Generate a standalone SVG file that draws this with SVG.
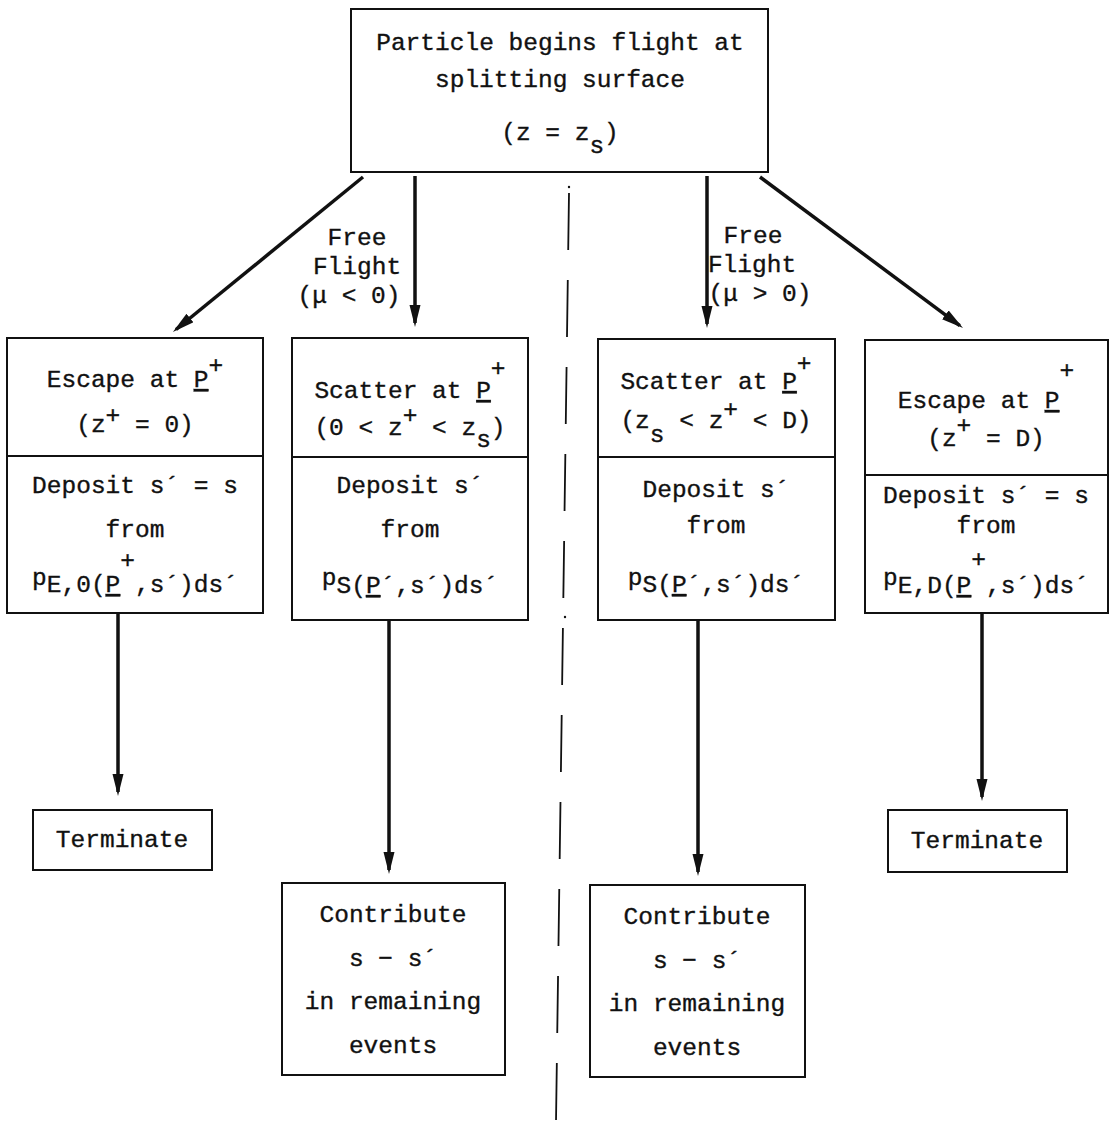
<svg xmlns="http://www.w3.org/2000/svg" width="1119" height="1125" viewBox="0 0 1119 1125">
  <style>
    .box { fill: #fff; stroke: #111; stroke-width: 2; }
    .div { stroke: #111; stroke-width: 2; }
    .t { font-family: "Liberation Mono", "DejaVu Sans Mono", monospace; font-size: 24.5px; fill: #111; stroke: #111; stroke-width: 0.35; text-anchor: middle; }
    .u { text-decoration: underline; }
    .arrow { stroke: #111; stroke-width: 3.5; fill: none; marker-end: url(#head); }
    .center { stroke: #111; stroke-width: 1.8; stroke-dasharray: 57 30; fill: none; }
  </style>
  <defs>
    <marker id="head" markerUnits="userSpaceOnUse" markerWidth="24" markerHeight="12" refX="18" refY="5.5" orient="auto">
      <path d="M0,0 L22,5.5 L0,11 Z" fill="#111"/>
    </marker>
  </defs>
  <rect width="1119" height="1125" fill="#fff"/>

  <!-- symmetry plane -->
  <g id="centerline">
    <line class="center" x1="569" y1="193" x2="556" y2="1122"/>
    <circle cx="569" cy="187" r="1.2" fill="#111"/>
    <circle cx="565" cy="617" r="1.2" fill="#111"/>
  </g>

  <!-- connectors -->
  <g id="connectors">
    <line class="arrow" x1="363" y1="177" x2="176" y2="329.5"/>
    <line class="arrow" x1="415" y1="176" x2="415" y2="323"/>
    <line class="arrow" x1="707" y1="176" x2="707" y2="324"/>
    <line class="arrow" x1="760" y1="177" x2="959.8" y2="325.6"/>
    <line class="arrow" x1="118" y1="613" x2="118" y2="792"/>
    <line class="arrow" x1="389" y1="620" x2="389" y2="870"/>
    <line class="arrow" x1="698" y1="620" x2="698" y2="872"/>
    <line class="arrow" x1="982" y1="613" x2="982" y2="797"/>
    <text class="t" x="357" y="245">Free</text>
    <text class="t" x="357" y="274">Flight</text>
    <text class="t" x="349" y="303">(μ &lt; 0)</text>
    <text class="t" x="753" y="243">Free</text>
    <text class="t" x="752" y="272">Flight</text>
    <text class="t" x="760" y="301">(μ &gt; 0)</text>
  </g>

  <!-- start node -->
  <g id="start">
    <rect class="box" x="351" y="9" width="417" height="163"/>
    <text class="t" x="560" y="50">Particle begins flight at</text>
    <text class="t" x="560" y="87">splitting surface</text>
    <text class="t" x="560" y="140">(z = z<tspan dy="13">s</tspan><tspan dy="-13">)</tspan></text>
  </g>

  <!-- escape at z = 0 -->
  <g id="escape0">
    <rect class="box" x="7" y="338" width="256" height="275"/>
    <line class="div" x1="7" y1="456" x2="263" y2="456"/>
    <text class="t" x="135" y="387">Escape at <tspan class="u">P</tspan><tspan dy="-14">+</tspan></text>
    <text class="t" x="135" y="432">(z<tspan dy="-9">+</tspan><tspan dy="9"> = 0)</tspan></text>
    <text class="t" x="135" y="493">Deposit s´ = s</text>
    <text class="t" x="135" y="537">from</text>
    <text class="t" x="135" y="592"><tspan dy="-7">p</tspan><tspan dy="7">E,0(</tspan><tspan class="u">P</tspan><tspan dy="-24">+</tspan><tspan dy="24">,s´)ds´</tspan></text>
  </g>

  <!-- scatter below splitting surface -->
  <g id="scatterLow">
    <rect class="box" x="292" y="338" width="236" height="282"/>
    <line class="div" x1="292" y1="457" x2="528" y2="457"/>
    <text class="t" x="410" y="398">Scatter at <tspan class="u">P</tspan><tspan dy="-22">+</tspan></text>
    <text class="t" x="410" y="435">(0 &lt; z<tspan dy="-12">+</tspan><tspan dy="12"> &lt; z</tspan><tspan dy="12">s</tspan><tspan dy="-12">)</tspan></text>
    <text class="t" x="410" y="493">Deposit s´</text>
    <text class="t" x="410" y="537">from</text>
    <text class="t" x="410" y="593"><tspan dy="-8">p</tspan><tspan dy="8">S(</tspan><tspan class="u">P</tspan>´,s´)ds´</text>
  </g>

  <!-- scatter above splitting surface -->
  <g id="scatterHigh">
    <rect class="box" x="598" y="339" width="237" height="281"/>
    <line class="div" x1="598" y1="457" x2="835" y2="457"/>
    <text class="t" x="716" y="389">Scatter at <tspan class="u">P</tspan><tspan dy="-18">+</tspan></text>
    <text class="t" x="716" y="428">(z<tspan dy="14">s</tspan><tspan dy="-14"> &lt; z</tspan><tspan dy="-11">+</tspan><tspan dy="11"> &lt; D)</tspan></text>
    <text class="t" x="716" y="497">Deposit s´</text>
    <text class="t" x="716" y="533">from</text>
    <text class="t" x="716" y="592"><tspan dy="-7">p</tspan><tspan dy="7">S(</tspan><tspan class="u">P</tspan>´,s´)ds´</text>
  </g>

  <!-- escape at z = D -->
  <g id="escapeD">
    <rect class="box" x="865" y="340" width="243" height="273"/>
    <line class="div" x1="865" y1="475" x2="1108" y2="475"/>
    <text class="t" x="986" y="408">Escape at <tspan class="u">P</tspan><tspan dy="-30">+</tspan></text>
    <text class="t" x="986" y="446">(z<tspan dy="-13">+</tspan><tspan dy="13"> = D)</tspan></text>
    <text class="t" x="986" y="503">Deposit s´ = s</text>
    <text class="t" x="986" y="533">from</text>
    <text class="t" x="986" y="593"><tspan dy="-8">p</tspan><tspan dy="8">E,D(</tspan><tspan class="u">P</tspan><tspan dy="-26">+</tspan><tspan dy="26">,s´)ds´</tspan></text>
  </g>

  <!-- terminal nodes -->
  <g id="terminateLeft">
    <rect class="box" x="33" y="810" width="179" height="60"/>
    <text class="t" x="122" y="847">Terminate</text>
  </g>
  <g id="terminateRight">
    <rect class="box" x="888" y="810" width="179" height="62"/>
    <text class="t" x="977" y="848">Terminate</text>
  </g>

  <g id="contributeLeft">
    <rect class="box" x="282" y="883" width="223" height="192"/>
    <text class="t" x="393" y="922">Contribute</text>
    <text class="t" x="393" y="966">s − s´</text>
    <text class="t" x="393" y="1009">in remaining</text>
    <text class="t" x="393" y="1053">events</text>
  </g>
  <g id="contributeRight">
    <rect class="box" x="590" y="885" width="215" height="192"/>
    <text class="t" x="697" y="924">Contribute</text>
    <text class="t" x="697" y="968">s − s´</text>
    <text class="t" x="697" y="1011">in remaining</text>
    <text class="t" x="697" y="1055">events</text>
  </g>
</svg>
